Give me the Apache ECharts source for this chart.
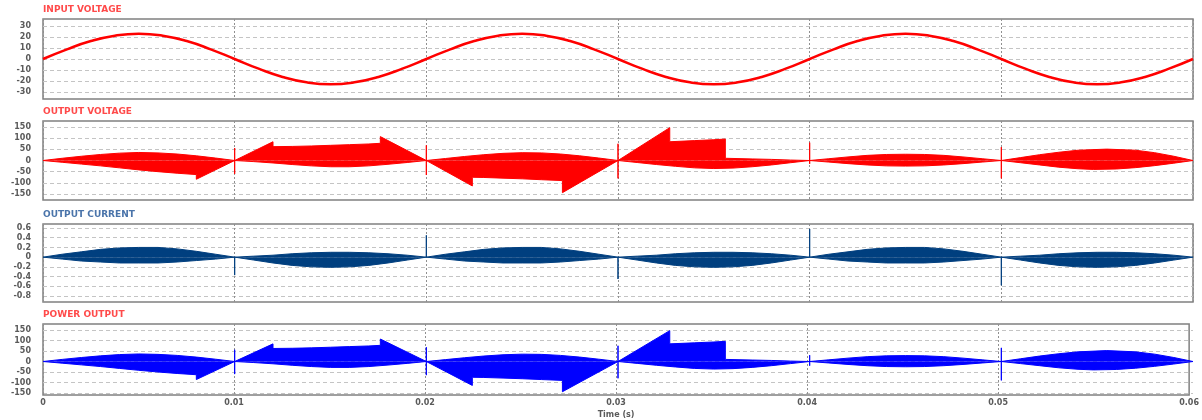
<!DOCTYPE html>
<html><head><meta charset="utf-8">
<script src="https://cdn.jsdelivr.net/npm/echarts@6/dist/echarts.min.js"></script>
<style>html,body{margin:0;padding:0;background:#fff}#c{width:1202px;height:420px}</style>
</head><body><div id="c"></div>
<script>
// ---- data ----
var xTicks = [0, 0.01, 0.02, 0.03, 0.04, 0.05, 0.06];
var titles = ['INPUT VOLTAGE', 'OUTPUT VOLTAGE', 'OUTPUT CURRENT', 'POWER OUTPUT'];

var inputT = [0,0.00125,0.0025,0.00375,0.005,0.00625,0.0075,0.00875,0.01,0.01125,0.0125,0.01375,0.015,0.01625,0.0175,0.01875,0.02,
  0.02125,0.0225,0.02375,0.025,0.02625,0.0275,0.02875,0.03,0.03125,0.0325,0.03375,0.035,0.03625,0.0375,0.03875,0.04,
  0.04125,0.0425,0.04375,0.045,0.04625,0.0475,0.04875,0.05,0.05125,0.0525,0.05375,0.055,0.05625,0.0575,0.05875,0.06];
var inputV = [0,8.8,16.3,21.2,23,21.2,16.3,8.8,0,-8.8,-16.3,-21.2,-23,-21.2,-16.3,-8.8,0,
  8.8,16.3,21.2,23,21.2,16.3,8.8,0,-8.8,-16.3,-21.2,-23,-21.2,-16.3,-8.8,0,
  8.8,16.3,21.2,23,21.2,16.3,8.8,0,-8.8,-16.3,-21.2,-23,-21.2,-16.3,-8.8,0];

var outVoltUpper = [[0,0],[0.001,10],[0.002,19],[0.003,27],[0.004,33],[0.005,36],[0.006,34],[0.007,29],[0.008,21],[0.009,11],[0.01,0],[0.01,56],[0.01,0],
  [0.012,84],[0.012,62],[0.013,63],[0.014,65],[0.015,68],[0.016,71],[0.017,74],[0.0176,77],[0.0176,107],[0.02,0],[0.02,68],[0.02,0],
  [0.021,9],[0.022,18],[0.023,26],[0.024,32],[0.025,35],[0.026,34],[0.027,29],[0.028,21],[0.029,11],[0.03,0],[0.03,75],[0.03,0],
  [0.0327,147],[0.0327,84],[0.034,89],[0.035,93],[0.0356,96],[0.0356,10],[0.037,7],[0.038,5],[0.039,2],[0.04,0],[0.04,80],[0.04,0],
  [0.041,8],[0.042,16],[0.043,23],[0.044,27],[0.045,28],[0.046,27],[0.047,23],[0.048,16],[0.049,8],[0.05,0],[0.05,60],[0.05,0],
  [0.051,13],[0.052,26],[0.053,37],[0.054,46],[0.0555,51],[0.057,46],[0.058,35],[0.059,19],[0.06,0]];
var outVoltLower = [[0,0],[0.001,-8],[0.002,-16],[0.003,-24],[0.004,-33],[0.005,-42],[0.006,-50],[0.007,-57],[0.008,-63],[0.008,-84],[0.01,0],[0.01,-60],[0.01,0],
  [0.011,-5],[0.012,-11],[0.013,-18],[0.014,-24],[0.015,-28],[0.016,-28],[0.017,-24],[0.018,-17],[0.019,-9],[0.02,0],[0.02,-65],[0.02,0],
  [0.0224,-114],[0.0224,-75],[0.023,-76],[0.024,-79],[0.025,-82],[0.026,-86],[0.0271,-90],[0.0271,-144],[0.03,0],[0.03,-80],[0.03,0],
  [0.031,-9],[0.032,-18],[0.033,-26],[0.034,-33],[0.035,-36],[0.036,-34],[0.037,-28],[0.038,-20],[0.039,-10],[0.04,0],[0.04,-15],[0.04,0],
  [0.041,-7],[0.042,-14],[0.043,-20],[0.044,-24],[0.045,-25],[0.046,-24],[0.047,-20],[0.048,-14],[0.049,-7],[0.05,0],[0.05,-80],[0.05,0],
  [0.051,-10],[0.052,-20],[0.053,-30],[0.054,-37],[0.0548,-40],[0.056,-38],[0.057,-32],[0.058,-23],[0.059,-12],[0.06,0]];

var curUpper = [[0,0],[0.001,0.06],[0.002,0.11],[0.003,0.16],[0.004,0.19],[0.005,0.2],[0.006,0.2],[0.007,0.17],[0.008,0.12],[0.009,0.06],[0.01,0],
  [0.011,0.02],[0.012,0.04],[0.013,0.07],[0.014,0.09],[0.015,0.1],[0.016,0.1],[0.017,0.09],[0.018,0.07],[0.019,0.04],[0.02,0],[0.02,0.45],[0.02,0],
  [0.021,0.06],[0.022,0.11],[0.023,0.16],[0.024,0.19],[0.025,0.2],[0.026,0.2],[0.027,0.17],[0.028,0.12],[0.029,0.06],[0.03,0],
  [0.031,0.02],[0.032,0.04],[0.033,0.07],[0.034,0.09],[0.035,0.1],[0.036,0.1],[0.037,0.09],[0.038,0.07],[0.039,0.04],[0.04,0],[0.04,0.58],[0.04,0],
  [0.041,0.06],[0.042,0.11],[0.043,0.16],[0.044,0.19],[0.045,0.2],[0.046,0.2],[0.047,0.17],[0.048,0.12],[0.049,0.06],[0.05,0],
  [0.051,0.02],[0.052,0.04],[0.053,0.07],[0.054,0.09],[0.055,0.1],[0.056,0.1],[0.057,0.09],[0.058,0.07],[0.059,0.04],[0.06,0]];
var curLower = [[0,0],[0.001,-0.04],[0.002,-0.08],[0.003,-0.1],[0.004,-0.12],[0.005,-0.12],[0.006,-0.12],[0.007,-0.1],[0.008,-0.07],[0.009,-0.04],[0.01,0],[0.01,-0.37],[0.01,0],
  [0.011,-0.06],[0.012,-0.12],[0.013,-0.17],[0.014,-0.2],[0.015,-0.21],[0.016,-0.2],[0.017,-0.17],[0.018,-0.12],[0.019,-0.06],[0.02,0],
  [0.021,-0.04],[0.022,-0.08],[0.023,-0.1],[0.024,-0.12],[0.025,-0.12],[0.026,-0.12],[0.027,-0.1],[0.028,-0.07],[0.029,-0.04],[0.03,0],[0.03,-0.45],[0.03,0],
  [0.031,-0.06],[0.032,-0.12],[0.033,-0.17],[0.034,-0.2],[0.035,-0.21],[0.036,-0.2],[0.037,-0.17],[0.038,-0.12],[0.039,-0.06],[0.04,0],
  [0.041,-0.04],[0.042,-0.08],[0.043,-0.1],[0.044,-0.12],[0.045,-0.12],[0.046,-0.12],[0.047,-0.1],[0.048,-0.07],[0.049,-0.04],[0.05,0],[0.05,-0.58],[0.05,0],
  [0.051,-0.06],[0.052,-0.12],[0.053,-0.17],[0.054,-0.2],[0.055,-0.21],[0.056,-0.2],[0.057,-0.17],[0.058,-0.12],[0.059,-0.06],[0.06,0]];

var powerUpper = [[0,0],[0.001,10],[0.002,19],[0.003,27],[0.004,33],[0.005,36],[0.006,34],[0.007,29],[0.008,21],[0.009,11],[0.01,0],[0.01,56],[0.01,0],
  [0.012,84],[0.012,62],[0.013,63],[0.014,65],[0.015,68],[0.016,71],[0.017,74],[0.0176,77],[0.0176,107],[0.02,0],[0.02,68],[0.02,0],
  [0.021,9],[0.022,18],[0.023,26],[0.024,32],[0.025,35],[0.026,34],[0.027,29],[0.028,21],[0.029,11],[0.03,0],[0.03,75],[0.03,0],
  [0.0327,147],[0.0327,84],[0.034,89],[0.035,93],[0.0356,96],[0.0356,10],[0.037,7],[0.038,5],[0.039,2],[0.04,0],[0.04,30],[0.04,0],
  [0.041,8],[0.042,16],[0.043,23],[0.044,27],[0.045,28],[0.046,27],[0.047,23],[0.048,16],[0.049,8],[0.05,0],[0.05,65],[0.05,0],
  [0.051,13],[0.052,26],[0.053,37],[0.054,46],[0.0555,52],[0.057,46],[0.058,35],[0.059,19],[0.06,0]];
var powerLower = [[0,0],[0.001,-8],[0.002,-16],[0.003,-24],[0.004,-33],[0.005,-42],[0.006,-50],[0.007,-57],[0.008,-63],[0.008,-86],[0.01,0],[0.01,-60],[0.01,0],
  [0.011,-5],[0.012,-11],[0.013,-18],[0.014,-24],[0.015,-28],[0.016,-28],[0.017,-24],[0.018,-17],[0.019,-9],[0.02,0],[0.02,-65],[0.02,0],
  [0.0224,-114],[0.0224,-75],[0.023,-76],[0.024,-79],[0.025,-82],[0.026,-86],[0.0271,-90],[0.0271,-144],[0.03,0],[0.03,-80],[0.03,0],
  [0.031,-9],[0.032,-18],[0.033,-26],[0.034,-33],[0.035,-36],[0.036,-34],[0.037,-28],[0.038,-20],[0.039,-10],[0.04,0],[0.04,-20],[0.04,0],
  [0.041,-7],[0.042,-14],[0.043,-20],[0.044,-24],[0.045,-25],[0.046,-24],[0.047,-20],[0.048,-14],[0.049,-7],[0.05,0],[0.05,-90],[0.05,0],
  [0.051,-10],[0.052,-20],[0.053,-30],[0.054,-37],[0.0548,-40],[0.056,-38],[0.057,-32],[0.058,-23],[0.059,-12],[0.06,0]];

// ---- layout ----
var LEFT = 43, RIGHT = 9;
var FONT = 'DejaVu Sans';
var panels = [
  { frameTop: 19, frameBottom: 99, dataTop: 26, dataBottom: 92, min: -30, max: 30, interval: 10, titleColor: '#ff4a4a' },
  { frameTop: 121, frameBottom: 200, dataTop: 127, dataBottom: 194, min: -150, max: 150, interval: 50, titleColor: '#ff4a4a' },
  { frameTop: 224, frameBottom: 302, dataTop: 228, dataBottom: 296, min: -0.8, max: 0.6, interval: 0.2, titleColor: '#4a74aa' },
  { frameTop: 324, frameBottom: 399, dataTop: 330, dataBottom: 393, min: -150, max: 150, interval: 50, titleColor: '#ff4a4a' }
];

var grids = [], xAxes = [], yAxes = [], titleOpts = [];
panels.forEach(function (p, i) {
  grids.push({ left: LEFT, right: RIGHT, top: p.frameTop, height: p.frameBottom - p.frameTop, show: true,
    borderColor: '#808080', borderWidth: 1.5, backgroundColor: 'transparent' });
  grids.push({ left: LEFT, right: RIGHT, top: p.dataTop, height: p.dataBottom - p.dataTop });
  xAxes.push({ type: 'value', gridIndex: 2 * i, min: 0, max: 0.06, interval: 0.01,
    axisLine: { show: false }, axisTick: { show: false },
    splitLine: { show: true, lineStyle: { color: '#909090', type: [2, 2], width: 1 } },
    axisLabel: { show: i === 3, color: '#5a5a5a', fontSize: 8, fontWeight: 'bold', fontFamily: FONT, margin: 4 },
    name: i === 3 ? 'Time (s)' : '', nameLocation: 'middle', nameGap: 16,
    nameTextStyle: { color: '#5a5a5a', fontSize: 8, fontWeight: 'bold', fontFamily: FONT } });
  yAxes.push({ type: 'value', gridIndex: 2 * i, min: 0, max: 1, show: false, splitLine: { show: false } });
  xAxes.push({ type: 'value', gridIndex: 2 * i + 1, min: 0, max: 0.06, show: false, splitLine: { show: false } });
  yAxes.push({ type: 'value', gridIndex: 2 * i + 1, min: p.min, max: p.max, interval: p.interval,
    axisLine: { show: false }, axisTick: { show: false },
    splitLine: { show: true, lineStyle: { color: '#c4c4c4', type: [4, 3], width: 1 } },
    axisLabel: { color: '#5a5a5a', fontSize: 8, fontWeight: 'bold', fontFamily: FONT, margin: 12 } });
  titleOpts.push({ text: titles[i], left: LEFT, top: p.frameTop - 14, padding: 0,
    textStyle: { color: p.titleColor, fontSize: 9, fontWeight: 'bold', fontFamily: FONT } });
});

function env(name, data, idx, color) {
  return { name: name, type: 'line', xAxisIndex: idx, yAxisIndex: idx, data: data, showSymbol: false,
    symbol: 'none', lineStyle: { color: color, width: 1 }, areaStyle: { color: color, opacity: 1 },
    animation: false, z: 3 };
}

var series = [
  { name: 'Input voltage', type: 'line', xAxisIndex: 1, yAxisIndex: 1, smooth: true, symbol: 'none',
    data: inputT.map(function (t, k) { return [t, inputV[k]]; }),
    lineStyle: { color: '#ff0000', width: 2.5 }, animation: false, z: 3 },
  env('Output voltage +', outVoltUpper, 3, '#ff0000'),
  env('Output voltage -', outVoltLower, 3, '#ff0000'),
  env('Output current +', curUpper, 5, '#003f7f'),
  env('Output current -', curLower, 5, '#003f7f'),
  env('Power +', powerUpper, 7, '#0000ff'),
  env('Power -', powerLower, 7, '#0000ff')
];

var chart = echarts.init(document.getElementById('c'), null, { renderer: 'canvas' });
chart.setOption({ animation: false, title: titleOpts, grid: grids, xAxis: xAxes, yAxis: yAxes, series: series });
</script></body></html>
